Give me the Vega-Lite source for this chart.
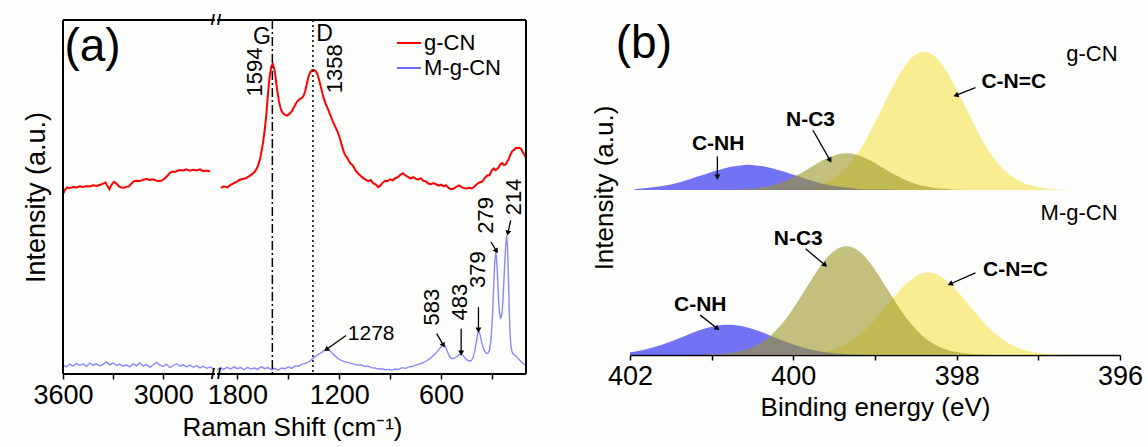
{
  "$schema": "https://vega.github.io/schema/vega-lite/v6.json",
  "background": "#fdfdfb",
  "padding": {"left": 22, "top": 13, "right": 5, "bottom": 5},
  "config": {
    "font": "Liberation Sans",
    "view": {"stroke": null},
    "axis": {"domainColor": "black", "tickColor": "black", "labelColor": "black", "titleColor": "black", "titleFontWeight": "normal", "grid": false, "labelFont": "Liberation Sans", "titleFont": "Liberation Sans"},
    "text": {"font": "Liberation Sans", "color": "black"}
  },
  "datasets": {
    "ramanL": [
      {"s":"g-CN","x":3600,"y":50.8},{"s":"g-CN","x":3590,"y":51.9},{"s":"g-CN","x":3575,"y":52.7},{"s":"g-CN","x":3560,"y":52.5},{"s":"g-CN","x":3540,"y":52.9},{"s":"g-CN","x":3520,"y":52.7},{"s":"g-CN","x":3500,"y":53.0},{"s":"g-CN","x":3480,"y":52.8},{"s":"g-CN","x":3460,"y":53.1},{"s":"g-CN","x":3440,"y":53.0},{"s":"g-CN","x":3420,"y":53.3},{"s":"g-CN","x":3400,"y":53.1},{"s":"g-CN","x":3380,"y":53.4},{"s":"g-CN","x":3360,"y":53.8},{"s":"g-CN","x":3345,"y":54.1},{"s":"g-CN","x":3335,"y":53.2},{"s":"g-CN","x":3322,"y":52.2},{"s":"g-CN","x":3310,"y":53.4},{"s":"g-CN","x":3295,"y":54.3},{"s":"g-CN","x":3280,"y":53.8},{"s":"g-CN","x":3265,"y":53.0},{"s":"g-CN","x":3250,"y":52.7},{"s":"g-CN","x":3235,"y":52.6},{"s":"g-CN","x":3220,"y":52.9},{"s":"g-CN","x":3205,"y":53.0},{"s":"g-CN","x":3190,"y":53.8},{"s":"g-CN","x":3175,"y":54.5},{"s":"g-CN","x":3160,"y":54.6},{"s":"g-CN","x":3140,"y":54.5},{"s":"g-CN","x":3120,"y":54.9},{"s":"g-CN","x":3100,"y":55.1},{"s":"g-CN","x":3080,"y":54.8},{"s":"g-CN","x":3060,"y":55.0},{"s":"g-CN","x":3040,"y":54.6},{"s":"g-CN","x":3020,"y":54.5},{"s":"g-CN","x":3005,"y":54.7},{"s":"g-CN","x":2990,"y":55.3},{"s":"g-CN","x":2975,"y":56.0},{"s":"g-CN","x":2960,"y":56.8},{"s":"g-CN","x":2945,"y":57.2},{"s":"g-CN","x":2930,"y":57.1},{"s":"g-CN","x":2915,"y":57.4},{"s":"g-CN","x":2900,"y":57.6},{"s":"g-CN","x":2880,"y":57.5},{"s":"g-CN","x":2860,"y":57.8},{"s":"g-CN","x":2840,"y":57.4},{"s":"g-CN","x":2820,"y":57.7},{"s":"g-CN","x":2800,"y":57.5},{"s":"g-CN","x":2780,"y":57.8},{"s":"g-CN","x":2760,"y":57.3},{"s":"g-CN","x":2740,"y":57.5},{"s":"g-CN","x":2720,"y":57.2},
      {"s":"M-g-CN","x":3600,"y":2.6},{"s":"M-g-CN","x":3580,"y":2.0},{"s":"M-g-CN","x":3560,"y":2.8},{"s":"M-g-CN","x":3540,"y":2.2},{"s":"M-g-CN","x":3520,"y":3.0},{"s":"M-g-CN","x":3500,"y":2.4},{"s":"M-g-CN","x":3480,"y":2.9},{"s":"M-g-CN","x":3460,"y":2.1},{"s":"M-g-CN","x":3440,"y":3.1},{"s":"M-g-CN","x":3420,"y":2.5},{"s":"M-g-CN","x":3400,"y":2.9},{"s":"M-g-CN","x":3380,"y":2.3},{"s":"M-g-CN","x":3360,"y":2.7},{"s":"M-g-CN","x":3340,"y":3.4},{"s":"M-g-CN","x":3320,"y":2.6},{"s":"M-g-CN","x":3300,"y":3.1},{"s":"M-g-CN","x":3280,"y":2.4},{"s":"M-g-CN","x":3260,"y":2.8},{"s":"M-g-CN","x":3240,"y":2.2},{"s":"M-g-CN","x":3220,"y":2.6},{"s":"M-g-CN","x":3200,"y":2.0},{"s":"M-g-CN","x":3180,"y":2.9},{"s":"M-g-CN","x":3160,"y":2.3},{"s":"M-g-CN","x":3140,"y":3.2},{"s":"M-g-CN","x":3120,"y":2.2},{"s":"M-g-CN","x":3100,"y":2.7},{"s":"M-g-CN","x":3080,"y":1.9},{"s":"M-g-CN","x":3060,"y":2.6},{"s":"M-g-CN","x":3040,"y":3.3},{"s":"M-g-CN","x":3020,"y":2.5},{"s":"M-g-CN","x":3000,"y":2.1},{"s":"M-g-CN","x":2980,"y":2.8},{"s":"M-g-CN","x":2960,"y":1.8},{"s":"M-g-CN","x":2940,"y":2.4},{"s":"M-g-CN","x":2920,"y":2.9},{"s":"M-g-CN","x":2900,"y":2.2},{"s":"M-g-CN","x":2880,"y":2.6},{"s":"M-g-CN","x":2860,"y":2.0},{"s":"M-g-CN","x":2840,"y":2.5},{"s":"M-g-CN","x":2820,"y":1.9},{"s":"M-g-CN","x":2800,"y":2.4},{"s":"M-g-CN","x":2780,"y":1.7},{"s":"M-g-CN","x":2760,"y":2.2},{"s":"M-g-CN","x":2740,"y":1.6},{"s":"M-g-CN","x":2720,"y":2.0},{"s":"M-g-CN","x":2700,"y":1.5}
    ],
    "ramanR": [
      {"s":"g-CN","x":1897,"y":52.6},{"s":"g-CN","x":1880,"y":53.0},{"s":"g-CN","x":1860,"y":52.7},{"s":"g-CN","x":1840,"y":53.4},{"s":"g-CN","x":1820,"y":53.9},{"s":"g-CN","x":1800,"y":54.4},{"s":"g-CN","x":1790,"y":54.8},{"s":"g-CN","x":1770,"y":55.1},{"s":"g-CN","x":1750,"y":55.3},{"s":"g-CN","x":1730,"y":55.9},{"s":"g-CN","x":1710,"y":56.6},{"s":"g-CN","x":1695,"y":57.3},{"s":"g-CN","x":1680,"y":58.6},{"s":"g-CN","x":1665,"y":61.0},{"s":"g-CN","x":1650,"y":65.0},{"s":"g-CN","x":1640,"y":68.5},{"s":"g-CN","x":1630,"y":73.0},{"s":"g-CN","x":1620,"y":79.0},{"s":"g-CN","x":1610,"y":84.0},{"s":"g-CN","x":1600,"y":86.8},{"s":"g-CN","x":1592,"y":87.6},{"s":"g-CN","x":1584,"y":86.5},{"s":"g-CN","x":1575,"y":83.8},{"s":"g-CN","x":1565,"y":80.0},{"s":"g-CN","x":1555,"y":77.0},{"s":"g-CN","x":1545,"y":75.0},{"s":"g-CN","x":1535,"y":73.9},{"s":"g-CN","x":1520,"y":73.2},{"s":"g-CN","x":1507,"y":73.0},{"s":"g-CN","x":1495,"y":73.4},{"s":"g-CN","x":1480,"y":74.2},{"s":"g-CN","x":1465,"y":75.5},{"s":"g-CN","x":1450,"y":76.8},{"s":"g-CN","x":1435,"y":77.6},{"s":"g-CN","x":1420,"y":78.0},{"s":"g-CN","x":1410,"y":78.6},{"s":"g-CN","x":1400,"y":80.0},{"s":"g-CN","x":1390,"y":82.2},{"s":"g-CN","x":1380,"y":84.2},{"s":"g-CN","x":1370,"y":85.3},{"s":"g-CN","x":1360,"y":85.8},{"s":"g-CN","x":1350,"y":85.9},{"s":"g-CN","x":1340,"y":85.6},{"s":"g-CN","x":1330,"y":84.9},{"s":"g-CN","x":1318,"y":83.0},{"s":"g-CN","x":1305,"y":80.4},{"s":"g-CN","x":1292,"y":78.0},{"s":"g-CN","x":1280,"y":76.3},{"s":"g-CN","x":1268,"y":75.0},{"s":"g-CN","x":1255,"y":73.4},{"s":"g-CN","x":1240,"y":71.6},{"s":"g-CN","x":1225,"y":70.0},{"s":"g-CN","x":1210,"y":68.5},{"s":"g-CN","x":1195,"y":66.4},{"s":"g-CN","x":1180,"y":63.8},{"s":"g-CN","x":1170,"y":62.3},{"s":"g-CN","x":1160,"y":61.5},{"s":"g-CN","x":1148,"y":60.6},{"s":"g-CN","x":1135,"y":59.5},{"s":"g-CN","x":1120,"y":58.9},{"s":"g-CN","x":1105,"y":57.6},{"s":"g-CN","x":1090,"y":56.7},{"s":"g-CN","x":1075,"y":56.0},{"s":"g-CN","x":1060,"y":55.4},{"s":"g-CN","x":1045,"y":54.9},{"s":"g-CN","x":1030,"y":54.5},{"s":"g-CN","x":1015,"y":54.8},{"s":"g-CN","x":1000,"y":53.9},{"s":"g-CN","x":985,"y":53.5},{"s":"g-CN","x":970,"y":52.8},{"s":"g-CN","x":958,"y":53.2},{"s":"g-CN","x":945,"y":54.0},{"s":"g-CN","x":930,"y":54.6},{"s":"g-CN","x":915,"y":54.5},{"s":"g-CN","x":900,"y":55.0},{"s":"g-CN","x":885,"y":54.7},{"s":"g-CN","x":870,"y":55.3},{"s":"g-CN","x":855,"y":55.6},{"s":"g-CN","x":840,"y":56.3},{"s":"g-CN","x":825,"y":56.7},{"s":"g-CN","x":810,"y":56.1},{"s":"g-CN","x":795,"y":55.7},{"s":"g-CN","x":780,"y":55.2},{"s":"g-CN","x":765,"y":55.6},{"s":"g-CN","x":750,"y":55.2},{"s":"g-CN","x":735,"y":54.9},{"s":"g-CN","x":720,"y":55.3},{"s":"g-CN","x":705,"y":54.6},{"s":"g-CN","x":690,"y":54.4},{"s":"g-CN","x":675,"y":53.8},{"s":"g-CN","x":660,"y":53.6},{"s":"g-CN","x":645,"y":53.9},{"s":"g-CN","x":630,"y":53.6},{"s":"g-CN","x":615,"y":53.2},{"s":"g-CN","x":600,"y":53.5},{"s":"g-CN","x":585,"y":53.0},{"s":"g-CN","x":570,"y":53.3},{"s":"g-CN","x":555,"y":52.5},{"s":"g-CN","x":540,"y":52.2},{"s":"g-CN","x":525,"y":52.4},{"s":"g-CN","x":510,"y":52.9},{"s":"g-CN","x":495,"y":53.3},{"s":"g-CN","x":480,"y":52.8},{"s":"g-CN","x":465,"y":52.5},{"s":"g-CN","x":450,"y":52.4},{"s":"g-CN","x":435,"y":52.6},{"s":"g-CN","x":420,"y":52.4},{"s":"g-CN","x":405,"y":52.9},{"s":"g-CN","x":390,"y":53.6},{"s":"g-CN","x":375,"y":54.1},{"s":"g-CN","x":360,"y":54.3},{"s":"g-CN","x":345,"y":55.2},{"s":"g-CN","x":330,"y":56.0},{"s":"g-CN","x":315,"y":56.2},{"s":"g-CN","x":300,"y":57.6},{"s":"g-CN","x":290,"y":58.1},{"s":"g-CN","x":280,"y":57.6},{"s":"g-CN","x":270,"y":57.9},{"s":"g-CN","x":260,"y":58.4},{"s":"g-CN","x":250,"y":59.3},{"s":"g-CN","x":240,"y":59.6},{"s":"g-CN","x":230,"y":59.0},{"s":"g-CN","x":220,"y":59.2},{"s":"g-CN","x":210,"y":60.0},{"s":"g-CN","x":200,"y":60.9},{"s":"g-CN","x":190,"y":62.2},{"s":"g-CN","x":180,"y":63.0},{"s":"g-CN","x":170,"y":63.3},{"s":"g-CN","x":160,"y":63.9},{"s":"g-CN","x":150,"y":63.8},{"s":"g-CN","x":140,"y":63.9},{"s":"g-CN","x":130,"y":63.7},{"s":"g-CN","x":120,"y":62.8},{"s":"g-CN","x":110,"y":62.0},{"s":"g-CN","x":100,"y":61.0},
      {"s":"M-g-CN","x":1920,"y":1.2},{"s":"M-g-CN","x":1900,"y":1.8},{"s":"M-g-CN","x":1880,"y":1.3},{"s":"M-g-CN","x":1860,"y":1.9},{"s":"M-g-CN","x":1840,"y":1.4},{"s":"M-g-CN","x":1820,"y":2.0},{"s":"M-g-CN","x":1800,"y":1.5},{"s":"M-g-CN","x":1780,"y":1.8},{"s":"M-g-CN","x":1760,"y":1.2},{"s":"M-g-CN","x":1740,"y":1.9},{"s":"M-g-CN","x":1720,"y":1.4},{"s":"M-g-CN","x":1700,"y":1.7},{"s":"M-g-CN","x":1680,"y":1.3},{"s":"M-g-CN","x":1660,"y":2.1},{"s":"M-g-CN","x":1640,"y":1.5},{"s":"M-g-CN","x":1620,"y":1.8},{"s":"M-g-CN","x":1600,"y":1.2},{"s":"M-g-CN","x":1580,"y":1.6},{"s":"M-g-CN","x":1560,"y":1.1},{"s":"M-g-CN","x":1540,"y":1.7},{"s":"M-g-CN","x":1520,"y":1.5},{"s":"M-g-CN","x":1500,"y":2.0},{"s":"M-g-CN","x":1480,"y":1.6},{"s":"M-g-CN","x":1460,"y":2.3},{"s":"M-g-CN","x":1440,"y":2.2},{"s":"M-g-CN","x":1420,"y":2.8},{"s":"M-g-CN","x":1400,"y":3.0},{"s":"M-g-CN","x":1380,"y":3.4},{"s":"M-g-CN","x":1360,"y":4.2},{"s":"M-g-CN","x":1340,"y":4.9},{"s":"M-g-CN","x":1320,"y":5.6},{"s":"M-g-CN","x":1300,"y":6.2},{"s":"M-g-CN","x":1290,"y":6.6},{"s":"M-g-CN","x":1278,"y":7.0},{"s":"M-g-CN","x":1265,"y":6.9},{"s":"M-g-CN","x":1250,"y":6.3},{"s":"M-g-CN","x":1235,"y":5.6},{"s":"M-g-CN","x":1220,"y":4.9},{"s":"M-g-CN","x":1205,"y":4.3},{"s":"M-g-CN","x":1190,"y":3.9},{"s":"M-g-CN","x":1170,"y":3.5},{"s":"M-g-CN","x":1150,"y":3.3},{"s":"M-g-CN","x":1130,"y":3.0},{"s":"M-g-CN","x":1110,"y":2.8},{"s":"M-g-CN","x":1090,"y":2.5},{"s":"M-g-CN","x":1070,"y":2.6},{"s":"M-g-CN","x":1050,"y":2.1},{"s":"M-g-CN","x":1030,"y":2.2},{"s":"M-g-CN","x":1010,"y":1.8},{"s":"M-g-CN","x":990,"y":1.7},{"s":"M-g-CN","x":970,"y":1.4},{"s":"M-g-CN","x":950,"y":1.5},{"s":"M-g-CN","x":930,"y":1.2},{"s":"M-g-CN","x":910,"y":1.3},{"s":"M-g-CN","x":890,"y":1.1},{"s":"M-g-CN","x":870,"y":1.4},{"s":"M-g-CN","x":850,"y":1.3},{"s":"M-g-CN","x":830,"y":1.8},{"s":"M-g-CN","x":810,"y":1.6},{"s":"M-g-CN","x":790,"y":2.0},{"s":"M-g-CN","x":770,"y":2.1},{"s":"M-g-CN","x":750,"y":2.5},{"s":"M-g-CN","x":730,"y":2.8},{"s":"M-g-CN","x":710,"y":3.1},{"s":"M-g-CN","x":690,"y":3.6},{"s":"M-g-CN","x":670,"y":4.2},{"s":"M-g-CN","x":650,"y":5.0},{"s":"M-g-CN","x":630,"y":5.9},{"s":"M-g-CN","x":615,"y":6.8},{"s":"M-g-CN","x":600,"y":7.7},{"s":"M-g-CN","x":590,"y":8.2},{"s":"M-g-CN","x":583,"y":8.3},{"s":"M-g-CN","x":575,"y":7.8},{"s":"M-g-CN","x":565,"y":6.6},{"s":"M-g-CN","x":555,"y":5.4},{"s":"M-g-CN","x":545,"y":4.6},{"s":"M-g-CN","x":535,"y":4.3},{"s":"M-g-CN","x":520,"y":4.5},{"s":"M-g-CN","x":505,"y":5.0},{"s":"M-g-CN","x":495,"y":5.4},{"s":"M-g-CN","x":483,"y":5.6},{"s":"M-g-CN","x":472,"y":5.3},{"s":"M-g-CN","x":460,"y":4.6},{"s":"M-g-CN","x":448,"y":4.0},{"s":"M-g-CN","x":435,"y":3.7},{"s":"M-g-CN","x":422,"y":3.8},{"s":"M-g-CN","x":412,"y":4.6},{"s":"M-g-CN","x":402,"y":6.4},{"s":"M-g-CN","x":392,"y":9.2},{"s":"M-g-CN","x":385,"y":11.3},{"s":"M-g-CN","x":379,"y":12.1},{"s":"M-g-CN","x":372,"y":11.4},{"s":"M-g-CN","x":365,"y":9.8},{"s":"M-g-CN","x":355,"y":7.8},{"s":"M-g-CN","x":345,"y":6.6},{"s":"M-g-CN","x":335,"y":5.9},{"s":"M-g-CN","x":325,"y":5.8},{"s":"M-g-CN","x":315,"y":6.8},{"s":"M-g-CN","x":307,"y":9.5},{"s":"M-g-CN","x":300,"y":14.0},{"s":"M-g-CN","x":294,"y":20.0},{"s":"M-g-CN","x":289,"y":26.5},{"s":"M-g-CN","x":284,"y":31.5},{"s":"M-g-CN","x":279,"y":34.4},{"s":"M-g-CN","x":275,"y":33.5},{"s":"M-g-CN","x":270,"y":30.0},{"s":"M-g-CN","x":265,"y":24.5},{"s":"M-g-CN","x":260,"y":19.5},{"s":"M-g-CN","x":255,"y":16.8},{"s":"M-g-CN","x":250,"y":15.8},{"s":"M-g-CN","x":245,"y":16.2},{"s":"M-g-CN","x":240,"y":18.0},{"s":"M-g-CN","x":235,"y":21.5},{"s":"M-g-CN","x":230,"y":26.5},{"s":"M-g-CN","x":225,"y":31.5},{"s":"M-g-CN","x":220,"y":36.0},{"s":"M-g-CN","x":214,"y":39.2},{"s":"M-g-CN","x":209,"y":36.0},{"s":"M-g-CN","x":204,"y":28.0},{"s":"M-g-CN","x":199,"y":18.5},{"s":"M-g-CN","x":194,"y":11.5},{"s":"M-g-CN","x":189,"y":8.0},{"s":"M-g-CN","x":182,"y":6.2},{"s":"M-g-CN","x":175,"y":5.6},{"s":"M-g-CN","x":165,"y":5.3},{"s":"M-g-CN","x":155,"y":4.9},{"s":"M-g-CN","x":145,"y":4.3},{"s":"M-g-CN","x":135,"y":3.8},{"s":"M-g-CN","x":125,"y":3.3},{"s":"M-g-CN","x":115,"y":2.9},{"s":"M-g-CN","x":105,"y":2.6},{"s":"M-g-CN","x":100,"y":2.5}
    ],
    "labelsGD": [{"t":"G","x":1655,"y":95.2},{"t":"D","x":1286,"y":96.1}],
    "labelsH": [{"t":"1278","x":1012,"y":11.4}],
    "labelsV": [{"t":"1594","x":1697,"y":85.3},{"t":"1358","x":1227,"y":86.2},{"t":"583","x":654,"y":18.9},{"t":"483","x":489,"y":20.3},{"t":"379","x":380,"y":29.5},{"t":"279","x":337,"y":44.8},{"t":"214","x":173,"y":50.0}],
    "arrowsA": [
      {"x":1160,"y":10.9,"x2":1276,"y2":6.9,"dir":234},
      {"x":626,"y":11.4,"x2":586,"y2":8.1,"dir":150},
      {"x":482,"y":12.8,"x2":482,"y2":5.9,"dir":180},
      {"x":380,"y":18.9,"x2":380,"y2":12.4,"dir":180},
      {"x":306,"y":37.3,"x2":274,"y2":34.7,"dir":149},
      {"x":190,"y":43.4,"x2":207,"y2":39.8,"dir":192}
    ],
    "xps": [
      {"s":"g-CN","c":"C-N=C","e":396.6,"i":49.3},{"s":"g-CN","c":"C-N=C","e":396.8,"i":49.5},{"s":"g-CN","c":"C-N=C","e":396.9,"i":49.7},{"s":"g-CN","c":"C-N=C","e":397.0,"i":50.1},{"s":"g-CN","c":"C-N=C","e":397.1,"i":50.7},{"s":"g-CN","c":"C-N=C","e":397.2,"i":51.6},{"s":"g-CN","c":"C-N=C","e":397.3,"i":52.9},{"s":"g-CN","c":"C-N=C","e":397.4,"i":54.8},{"s":"g-CN","c":"C-N=C","e":397.5,"i":57.4},{"s":"g-CN","c":"C-N=C","e":397.6,"i":60.7},{"s":"g-CN","c":"C-N=C","e":397.7,"i":64.7},{"s":"g-CN","c":"C-N=C","e":397.8,"i":69.4},{"s":"g-CN","c":"C-N=C","e":397.9,"i":74.3},{"s":"g-CN","c":"C-N=C","e":398.0,"i":79.2},{"s":"g-CN","c":"C-N=C","e":398.1,"i":83.7},{"s":"g-CN","c":"C-N=C","e":398.2,"i":87.4},{"s":"g-CN","c":"C-N=C","e":398.3,"i":89.7},{"s":"g-CN","c":"C-N=C","e":398.4,"i":90.6},{"s":"g-CN","c":"C-N=C","e":398.5,"i":89.7},{"s":"g-CN","c":"C-N=C","e":398.6,"i":87.4},{"s":"g-CN","c":"C-N=C","e":398.7,"i":83.7},{"s":"g-CN","c":"C-N=C","e":398.8,"i":79.2},{"s":"g-CN","c":"C-N=C","e":398.9,"i":74.3},{"s":"g-CN","c":"C-N=C","e":399.0,"i":69.4},{"s":"g-CN","c":"C-N=C","e":399.1,"i":64.7},{"s":"g-CN","c":"C-N=C","e":399.2,"i":60.7},{"s":"g-CN","c":"C-N=C","e":399.3,"i":57.4},{"s":"g-CN","c":"C-N=C","e":399.4,"i":54.8},{"s":"g-CN","c":"C-N=C","e":399.5,"i":52.9},{"s":"g-CN","c":"C-N=C","e":399.6,"i":51.6},{"s":"g-CN","c":"C-N=C","e":399.7,"i":50.7},{"s":"g-CN","c":"C-N=C","e":399.8,"i":50.1},{"s":"g-CN","c":"C-N=C","e":399.9,"i":49.7},{"s":"g-CN","c":"C-N=C","e":400.0,"i":49.5},{"s":"g-CN","c":"C-N=C","e":400.2,"i":49.3},
      {"s":"g-CN","c":"C-NH","e":398.75,"i":49.3},{"s":"g-CN","c":"C-NH","e":398.95,"i":49.4},{"s":"g-CN","c":"C-NH","e":399.05,"i":49.4},{"s":"g-CN","c":"C-NH","e":399.15,"i":49.5},{"s":"g-CN","c":"C-NH","e":399.25,"i":49.7},{"s":"g-CN","c":"C-NH","e":399.35,"i":50.0},{"s":"g-CN","c":"C-NH","e":399.45,"i":50.3},{"s":"g-CN","c":"C-NH","e":399.55,"i":50.7},{"s":"g-CN","c":"C-NH","e":399.65,"i":51.2},{"s":"g-CN","c":"C-NH","e":399.75,"i":51.9},{"s":"g-CN","c":"C-NH","e":399.85,"i":52.6},{"s":"g-CN","c":"C-NH","e":399.95,"i":53.4},{"s":"g-CN","c":"C-NH","e":400.05,"i":54.2},{"s":"g-CN","c":"C-NH","e":400.15,"i":55.0},{"s":"g-CN","c":"C-NH","e":400.25,"i":55.7},{"s":"g-CN","c":"C-NH","e":400.35,"i":56.3},{"s":"g-CN","c":"C-NH","e":400.45,"i":56.6},{"s":"g-CN","c":"C-NH","e":400.55,"i":56.8},{"s":"g-CN","c":"C-NH","e":400.65,"i":56.6},{"s":"g-CN","c":"C-NH","e":400.75,"i":56.3},{"s":"g-CN","c":"C-NH","e":400.85,"i":55.7},{"s":"g-CN","c":"C-NH","e":400.95,"i":55.0},{"s":"g-CN","c":"C-NH","e":401.05,"i":54.2},{"s":"g-CN","c":"C-NH","e":401.15,"i":53.4},{"s":"g-CN","c":"C-NH","e":401.25,"i":52.6},{"s":"g-CN","c":"C-NH","e":401.35,"i":51.9},{"s":"g-CN","c":"C-NH","e":401.45,"i":51.2},{"s":"g-CN","c":"C-NH","e":401.55,"i":50.7},{"s":"g-CN","c":"C-NH","e":401.65,"i":50.3},{"s":"g-CN","c":"C-NH","e":401.75,"i":50.0},{"s":"g-CN","c":"C-NH","e":401.85,"i":49.7},{"s":"g-CN","c":"C-NH","e":401.95,"i":49.5},
      {"s":"g-CN","c":"N-C3","e":397.95,"i":49.3},{"s":"g-CN","c":"N-C3","e":398.05,"i":49.4},{"s":"g-CN","c":"N-C3","e":398.15,"i":49.6},{"s":"g-CN","c":"N-C3","e":398.25,"i":49.8},{"s":"g-CN","c":"N-C3","e":398.35,"i":50.2},{"s":"g-CN","c":"N-C3","e":398.45,"i":50.7},{"s":"g-CN","c":"N-C3","e":398.55,"i":51.5},{"s":"g-CN","c":"N-C3","e":398.65,"i":52.5},{"s":"g-CN","c":"N-C3","e":398.75,"i":53.7},{"s":"g-CN","c":"N-C3","e":398.85,"i":55.1},{"s":"g-CN","c":"N-C3","e":398.95,"i":56.6},{"s":"g-CN","c":"N-C3","e":399.05,"i":58.0},{"s":"g-CN","c":"N-C3","e":399.15,"i":59.1},{"s":"g-CN","c":"N-C3","e":399.25,"i":59.9},{"s":"g-CN","c":"N-C3","e":399.35,"i":60.2},{"s":"g-CN","c":"N-C3","e":399.45,"i":59.9},{"s":"g-CN","c":"N-C3","e":399.55,"i":59.1},{"s":"g-CN","c":"N-C3","e":399.65,"i":58.0},{"s":"g-CN","c":"N-C3","e":399.75,"i":56.6},{"s":"g-CN","c":"N-C3","e":399.85,"i":55.1},{"s":"g-CN","c":"N-C3","e":399.95,"i":53.7},{"s":"g-CN","c":"N-C3","e":400.05,"i":52.5},{"s":"g-CN","c":"N-C3","e":400.15,"i":51.5},{"s":"g-CN","c":"N-C3","e":400.25,"i":50.7},{"s":"g-CN","c":"N-C3","e":400.35,"i":50.2},{"s":"g-CN","c":"N-C3","e":400.45,"i":49.8},{"s":"g-CN","c":"N-C3","e":400.55,"i":49.6},{"s":"g-CN","c":"N-C3","e":400.65,"i":49.4},{"s":"g-CN","c":"N-C3","e":400.75,"i":49.3},
      {"s":"M-g-CN","c":"C-N=C","e":396.55,"i":0.04},{"s":"M-g-CN","c":"C-N=C","e":396.75,"i":0.15},{"s":"M-g-CN","c":"C-N=C","e":396.85,"i":0.27},{"s":"M-g-CN","c":"C-N=C","e":396.95,"i":0.49},{"s":"M-g-CN","c":"C-N=C","e":397.05,"i":0.84},{"s":"M-g-CN","c":"C-N=C","e":397.15,"i":1.38},{"s":"M-g-CN","c":"C-N=C","e":397.25,"i":2.19},{"s":"M-g-CN","c":"C-N=C","e":397.35,"i":3.32},{"s":"M-g-CN","c":"C-N=C","e":397.45,"i":4.87},{"s":"M-g-CN","c":"C-N=C","e":397.55,"i":6.84},{"s":"M-g-CN","c":"C-N=C","e":397.65,"i":9.23},{"s":"M-g-CN","c":"C-N=C","e":397.75,"i":11.98},{"s":"M-g-CN","c":"C-N=C","e":397.85,"i":14.93},{"s":"M-g-CN","c":"C-N=C","e":397.95,"i":17.86},{"s":"M-g-CN","c":"C-N=C","e":398.05,"i":20.54},{"s":"M-g-CN","c":"C-N=C","e":398.15,"i":22.71},{"s":"M-g-CN","c":"C-N=C","e":398.25,"i":24.11},{"s":"M-g-CN","c":"C-N=C","e":398.35,"i":24.6},{"s":"M-g-CN","c":"C-N=C","e":398.45,"i":24.11},{"s":"M-g-CN","c":"C-N=C","e":398.55,"i":22.71},{"s":"M-g-CN","c":"C-N=C","e":398.65,"i":20.54},{"s":"M-g-CN","c":"C-N=C","e":398.75,"i":17.86},{"s":"M-g-CN","c":"C-N=C","e":398.85,"i":14.93},{"s":"M-g-CN","c":"C-N=C","e":398.95,"i":11.98},{"s":"M-g-CN","c":"C-N=C","e":399.05,"i":9.23},{"s":"M-g-CN","c":"C-N=C","e":399.15,"i":6.84},{"s":"M-g-CN","c":"C-N=C","e":399.25,"i":4.87},{"s":"M-g-CN","c":"C-N=C","e":399.35,"i":3.32},{"s":"M-g-CN","c":"C-N=C","e":399.45,"i":2.19},{"s":"M-g-CN","c":"C-N=C","e":399.55,"i":1.38},{"s":"M-g-CN","c":"C-N=C","e":399.65,"i":0.84},{"s":"M-g-CN","c":"C-N=C","e":399.75,"i":0.49},{"s":"M-g-CN","c":"C-N=C","e":399.85,"i":0.27},{"s":"M-g-CN","c":"C-N=C","e":399.95,"i":0.15},{"s":"M-g-CN","c":"C-N=C","e":400.15,"i":0.04},
      {"s":"M-g-CN","c":"C-NH","e":399.0,"i":0.05},{"s":"M-g-CN","c":"C-NH","e":399.2,"i":0.14},{"s":"M-g-CN","c":"C-NH","e":399.3,"i":0.22},{"s":"M-g-CN","c":"C-NH","e":399.4,"i":0.35},{"s":"M-g-CN","c":"C-NH","e":399.5,"i":0.55},{"s":"M-g-CN","c":"C-NH","e":399.6,"i":0.84},{"s":"M-g-CN","c":"C-NH","e":399.7,"i":1.22},{"s":"M-g-CN","c":"C-NH","e":399.8,"i":1.72},{"s":"M-g-CN","c":"C-NH","e":399.9,"i":2.36},{"s":"M-g-CN","c":"C-NH","e":400.0,"i":3.12},{"s":"M-g-CN","c":"C-NH","e":400.1,"i":4.01},{"s":"M-g-CN","c":"C-NH","e":400.2,"i":4.97},{"s":"M-g-CN","c":"C-NH","e":400.3,"i":5.96},{"s":"M-g-CN","c":"C-NH","e":400.4,"i":6.91},{"s":"M-g-CN","c":"C-NH","e":400.5,"i":7.76},{"s":"M-g-CN","c":"C-NH","e":400.6,"i":8.42},{"s":"M-g-CN","c":"C-NH","e":400.7,"i":8.86},{"s":"M-g-CN","c":"C-NH","e":400.8,"i":9.0},{"s":"M-g-CN","c":"C-NH","e":400.9,"i":8.86},{"s":"M-g-CN","c":"C-NH","e":401.0,"i":8.42},{"s":"M-g-CN","c":"C-NH","e":401.1,"i":7.76},{"s":"M-g-CN","c":"C-NH","e":401.2,"i":6.91},{"s":"M-g-CN","c":"C-NH","e":401.3,"i":5.96},{"s":"M-g-CN","c":"C-NH","e":401.4,"i":4.97},{"s":"M-g-CN","c":"C-NH","e":401.5,"i":4.01},{"s":"M-g-CN","c":"C-NH","e":401.6,"i":3.12},{"s":"M-g-CN","c":"C-NH","e":401.7,"i":2.36},{"s":"M-g-CN","c":"C-NH","e":401.8,"i":1.72},{"s":"M-g-CN","c":"C-NH","e":401.9,"i":1.22},{"s":"M-g-CN","c":"C-NH","e":402.0,"i":0.84},
      {"s":"M-g-CN","c":"N-C3","e":397.55,"i":0.05},{"s":"M-g-CN","c":"N-C3","e":397.75,"i":0.2},{"s":"M-g-CN","c":"N-C3","e":397.85,"i":0.36},{"s":"M-g-CN","c":"N-C3","e":397.95,"i":0.65},{"s":"M-g-CN","c":"N-C3","e":398.05,"i":1.11},{"s":"M-g-CN","c":"N-C3","e":398.15,"i":1.82},{"s":"M-g-CN","c":"N-C3","e":398.25,"i":2.89},{"s":"M-g-CN","c":"N-C3","e":398.35,"i":4.39},{"s":"M-g-CN","c":"N-C3","e":398.45,"i":6.44},{"s":"M-g-CN","c":"N-C3","e":398.55,"i":9.04},{"s":"M-g-CN","c":"N-C3","e":398.65,"i":12.19},{"s":"M-g-CN","c":"N-C3","e":398.75,"i":15.83},{"s":"M-g-CN","c":"N-C3","e":398.85,"i":19.73},{"s":"M-g-CN","c":"N-C3","e":398.95,"i":23.6},{"s":"M-g-CN","c":"N-C3","e":399.05,"i":27.14},{"s":"M-g-CN","c":"N-C3","e":399.15,"i":30.0},{"s":"M-g-CN","c":"N-C3","e":399.25,"i":31.85},{"s":"M-g-CN","c":"N-C3","e":399.35,"i":32.5},{"s":"M-g-CN","c":"N-C3","e":399.45,"i":31.85},{"s":"M-g-CN","c":"N-C3","e":399.55,"i":30.0},{"s":"M-g-CN","c":"N-C3","e":399.65,"i":27.14},{"s":"M-g-CN","c":"N-C3","e":399.75,"i":23.6},{"s":"M-g-CN","c":"N-C3","e":399.85,"i":19.73},{"s":"M-g-CN","c":"N-C3","e":399.95,"i":15.83},{"s":"M-g-CN","c":"N-C3","e":400.05,"i":12.19},{"s":"M-g-CN","c":"N-C3","e":400.15,"i":9.04},{"s":"M-g-CN","c":"N-C3","e":400.25,"i":6.44},{"s":"M-g-CN","c":"N-C3","e":400.35,"i":4.39},{"s":"M-g-CN","c":"N-C3","e":400.45,"i":2.89},{"s":"M-g-CN","c":"N-C3","e":400.55,"i":1.82},{"s":"M-g-CN","c":"N-C3","e":400.65,"i":1.11},{"s":"M-g-CN","c":"N-C3","e":400.75,"i":0.65},{"s":"M-g-CN","c":"N-C3","e":400.85,"i":0.36},{"s":"M-g-CN","c":"N-C3","e":400.95,"i":0.2},{"s":"M-g-CN","c":"N-C3","e":401.15,"i":0.05}
    ],
    "labelsB": [{"t":"C-NH","e":400.92,"i":63.1},{"t":"N-C3","e":399.79,"i":70.1},{"t":"C-N=C","e":397.30,"i":81.5},{"t":"C-NH","e":401.14,"i":14.8},{"t":"N-C3","e":399.94,"i":34.7},{"t":"C-N=C","e":397.28,"i":25.5}],
    "samplesB": [{"t":"g-CN","e":396.03,"i":89.9},{"t":"M-g-CN","e":396.03,"i":42.4}],
    "arrowsB": [
      {"e":400.93,"i":59.3,"e2":400.93,"i2":53.1,"dir":180},
      {"e":399.76,"i":67.1,"e2":399.55,"i2":58.1,"dir":150},
      {"e":397.77,"i":79.8,"e2":398.01,"i2":77.5,"dir":249},
      {"e":401.14,"i":11.9,"e2":400.93,"i2":7.9,"dir":128},
      {"e":399.85,"i":31.7,"e2":399.61,"i2":26.8,"dir":130},
      {"e":397.77,"i":24.5,"e2":398.08,"i2":21.2,"dir":246}
    ]
  },
  "spacing": 61,
  "hconcat": [
    {
      "spacing": -39,
      "resolve": {"scale": {"color": "independent", "strokeWidth": "independent"}},
      "hconcat": [
        {
          "width": 152,
          "height": 354,
          "layer": [
            {
              "data": {"name": "ramanL"},
              "mark": {"type": "line"},
              "encoding": {
                "x": {"field": "x", "type": "quantitative", "scale": {"domain": [2690, 3600], "reverse": true, "nice": false, "zero": false},
                      "axis": {"values": [3600, 3300, 3000], "format": "d", "labelExpr": "datum.value == 3300 ? '' : datum.label", "labelFlush": false, "labelOverlap": false, "domain": false, "tickSize": 5, "tickWidth": 1.5, "labelFontSize": 27, "labelPadding": 3, "title": null}},
                "y": {"field": "y", "type": "quantitative", "scale": {"domain": [0, 100], "nice": false, "zero": false},
                      "axis": {"domain": false, "ticks": false, "labels": false, "title": "Intensity (a.u.)", "titleFontSize": 27, "titlePadding": 13}},
                "color": {"field": "s", "type": "nominal", "scale": {"domain": ["g-CN", "M-g-CN"], "range": ["#ff0000", "#2a2aff"]}, "legend": null},
                "strokeWidth": {"field": "s", "type": "nominal", "scale": {"domain": ["g-CN", "M-g-CN"], "range": [2, 1.4]}, "legend": null},
                "strokeOpacity": {"condition": {"test": "datum.s == 'M-g-CN'", "value": 0.55}, "value": 1}
              }
            },
            {
              "data": {"values": [{}]},
              "mark": {"type": "rule", "color": "black", "strokeWidth": 2},
              "encoding": {"y": {"datum": 100, "type": "quantitative"}}
            },
            {
              "data": {"values": [{}]},
              "mark": {"type": "rule", "color": "black", "strokeWidth": 2},
              "encoding": {"y": {"datum": 0, "type": "quantitative"}}
            },
            {
              "data": {"values": [{}]},
              "mark": {"type": "rule", "color": "black", "strokeWidth": 2},
              "encoding": {"x": {"datum": 3600, "type": "quantitative"}}
            },
            {
              "data": {"values": [{"y": 100}, {"y": 0}]},
              "mark": {"type": "text", "text": "/", "fontSize": 15, "fontWeight": "bold", "align": "right", "baseline": "middle"},
              "encoding": {"x": {"datum": 2690, "type": "quantitative"}, "y": {"field": "y", "type": "quantitative"}}
            },
            {
              "data": {"values": [{"t": "(a)", "x": 3423, "y": 92.4}]},
              "mark": {"type": "text", "fontSize": 46, "align": "center", "baseline": "middle"},
              "encoding": {"x": {"field": "x", "type": "quantitative"}, "y": {"field": "y", "type": "quantitative"}, "text": {"field": "t"}}
            }
          ]
        },
        {
          "width": 309,
          "height": 354,
          "layer": [
            {
              "data": {"name": "ramanR"},
              "mark": {"type": "line"},
              "encoding": {
                "x": {"field": "x", "type": "quantitative", "scale": {"domain": [100, 1920], "reverse": true, "nice": false, "zero": false},
                      "axis": {"values": [1800, 1500, 1200, 900, 600, 300], "format": "d", "labelExpr": "datum.value % 600 == 0 ? datum.label : ''", "labelFlush": false, "labelOverlap": false, "domain": false, "tickSize": 5, "tickWidth": 1.5, "labelFontSize": 27, "labelPadding": 3, "title": "Raman Shift (cm⁻¹)", "titleFontSize": 26, "titlePadding": 6, "titleX": 75, "titleAlign": "center"}},
                "y": {"field": "y", "type": "quantitative", "scale": {"domain": [0, 100], "nice": false, "zero": false}, "axis": null},
                "color": {"field": "s", "type": "nominal", "scale": {"domain": ["g-CN", "M-g-CN"], "range": ["#ff0000", "#2a2aff"]},
                          "legend": {"orient": "none", "legendX": 179, "legendY": 10, "title": null, "symbolType": "stroke", "symbolSize": 576, "symbolStrokeWidth": 3, "symbolOpacity": 1, "labelFontSize": 22, "labelFont": "Liberation Sans", "labelColor": "black", "labelOffset": 2, "rowPadding": 1, "padding": 0}},
                "strokeWidth": {"field": "s", "type": "nominal", "scale": {"domain": ["g-CN", "M-g-CN"], "range": [2, 1.4]}, "legend": null},
                "strokeOpacity": {"condition": {"test": "datum.s == 'M-g-CN'", "value": 0.55}, "value": 1}
              }
            },
            {
              "data": {"values": [{}]},
              "mark": {"type": "rule", "color": "black", "strokeWidth": 1.5, "strokeDash": [9, 3, 2, 3]},
              "encoding": {"x": {"datum": 1594, "type": "quantitative"}}
            },
            {
              "data": {"values": [{}]},
              "mark": {"type": "rule", "color": "black", "strokeWidth": 1.5, "strokeDash": [2, 3]},
              "encoding": {"x": {"datum": 1355, "type": "quantitative"}}
            },
            {
              "data": {"values": [{}]},
              "mark": {"type": "rule", "color": "black", "strokeWidth": 2},
              "encoding": {"y": {"datum": 100, "type": "quantitative", "axis": null}}
            },
            {
              "data": {"values": [{}]},
              "mark": {"type": "rule", "color": "black", "strokeWidth": 2},
              "encoding": {"y": {"datum": 0, "type": "quantitative", "axis": null}}
            },
            {
              "data": {"values": [{}]},
              "mark": {"type": "rule", "color": "black", "strokeWidth": 2},
              "encoding": {"x": {"datum": 100, "type": "quantitative"}}
            },
            {
              "data": {"values": [{"y": 100}, {"y": 0}]},
              "mark": {"type": "text", "text": "/", "fontSize": 15, "fontWeight": "bold", "align": "left", "baseline": "middle"},
              "encoding": {"x": {"datum": 1920, "type": "quantitative"}, "y": {"field": "y", "type": "quantitative", "axis": null}}
            },
            {
              "data": {"name": "labelsGD"},
              "mark": {"type": "text", "fontSize": 23, "align": "center", "baseline": "middle"},
              "encoding": {"x": {"field": "x", "type": "quantitative"}, "y": {"field": "y", "type": "quantitative", "axis": null}, "text": {"field": "t"}}
            },
            {
              "data": {"name": "labelsH"},
              "mark": {"type": "text", "fontSize": 21, "align": "center", "baseline": "middle"},
              "encoding": {"x": {"field": "x", "type": "quantitative"}, "y": {"field": "y", "type": "quantitative", "axis": null}, "text": {"field": "t"}}
            },
            {
              "data": {"name": "labelsV"},
              "mark": {"type": "text", "fontSize": 22, "align": "center", "baseline": "middle", "angle": 270},
              "encoding": {"x": {"field": "x", "type": "quantitative"}, "y": {"field": "y", "type": "quantitative", "axis": null}, "text": {"field": "t"}}
            },
            {
              "data": {"name": "arrowsA"},
              "mark": {"type": "rule", "color": "black", "strokeWidth": 1.3},
              "encoding": {"x": {"field": "x", "type": "quantitative"}, "y": {"field": "y", "type": "quantitative", "axis": null}, "x2": {"field": "x2"}, "y2": {"field": "y2"}}
            },
            {
              "data": {"name": "arrowsA"},
              "mark": {"type": "point", "shape": "triangle-up", "filled": true, "color": "black", "opacity": 1, "size": 35},
              "encoding": {"x": {"field": "x2", "type": "quantitative"}, "y": {"field": "y2", "type": "quantitative", "axis": null}, "angle": {"field": "dir", "type": "quantitative", "scale": null}}
            }
          ]
        }
      ]
    },
    {
      "width": 490,
      "height": 335,
      "layer": [
        {
          "data": {"name": "xps"},
          "transform": [{"filter": "datum.s == 'g-CN'"}],
          "mark": {"type": "area", "interpolate": "monotone", "opacity": 0.6},
          "encoding": {
            "x": {"field": "e", "type": "quantitative", "scale": {"domain": [396, 402], "reverse": true, "nice": false, "zero": false},
                  "axis": {"values": [402, 401, 400, 399, 398, 397, 396], "format": "d", "labelExpr": "datum.value % 2 == 0 ? datum.label : ''", "labelFlush": false, "labelOverlap": false, "tickSize": 5, "tickWidth": 1.5, "domainWidth": 1.5, "labelFontSize": 27, "labelPadding": 3, "title": "Binding energy (eV)", "titleFontSize": 26, "titlePadding": 5}},
            "y": {"field": "i", "type": "quantitative", "scale": {"domain": [0, 100], "nice": false, "zero": false},
                  "axis": {"domain": false, "ticks": false, "labels": false, "title": "Intensity (a.u.)", "titleFontSize": 26, "titlePadding": 13}},
            "y2": {"datum": 49.25},
            "color": {"field": "c", "type": "nominal", "scale": {"domain": ["C-N=C", "C-NH", "N-C3"], "range": ["#f5e44b", "#1616f1", "#9d9628"]}, "legend": null}
          }
        },
        {
          "data": {"name": "xps"},
          "transform": [{"filter": "datum.s == 'M-g-CN'"}],
          "mark": {"type": "area", "interpolate": "monotone", "opacity": 0.6},
          "encoding": {
            "x": {"field": "e", "type": "quantitative"},
            "y": {"field": "i", "type": "quantitative", "stack": null},
            "color": {"field": "c", "type": "nominal", "legend": null}
          }
        },
        {
          "data": {"name": "labelsB"},
          "mark": {"type": "text", "fontSize": 21, "fontWeight": "bold", "align": "center", "baseline": "middle"},
          "encoding": {"x": {"field": "e", "type": "quantitative"}, "y": {"field": "i", "type": "quantitative"}, "text": {"field": "t"}}
        },
        {
          "data": {"name": "samplesB"},
          "mark": {"type": "text", "fontSize": 22, "align": "right", "baseline": "middle"},
          "encoding": {"x": {"field": "e", "type": "quantitative"}, "y": {"field": "i", "type": "quantitative"}, "text": {"field": "t"}}
        },
        {
          "data": {"values": [{"t": "(b)", "e": 401.83, "i": 92.9}]},
          "mark": {"type": "text", "fontSize": 46, "align": "center", "baseline": "middle"},
          "encoding": {"x": {"field": "e", "type": "quantitative"}, "y": {"field": "i", "type": "quantitative"}, "text": {"field": "t"}}
        },
        {
          "data": {"name": "arrowsB"},
          "mark": {"type": "rule", "color": "black", "strokeWidth": 1.3},
          "encoding": {"x": {"field": "e", "type": "quantitative"}, "y": {"field": "i", "type": "quantitative"}, "x2": {"field": "e2"}, "y2": {"field": "i2"}}
        },
        {
          "data": {"name": "arrowsB"},
          "mark": {"type": "point", "shape": "triangle-up", "filled": true, "color": "black", "opacity": 1, "size": 35},
          "encoding": {"x": {"field": "e2", "type": "quantitative"}, "y": {"field": "i2", "type": "quantitative"}, "angle": {"field": "dir", "type": "quantitative", "scale": null}}
        }
      ]
    }
  ]
}
